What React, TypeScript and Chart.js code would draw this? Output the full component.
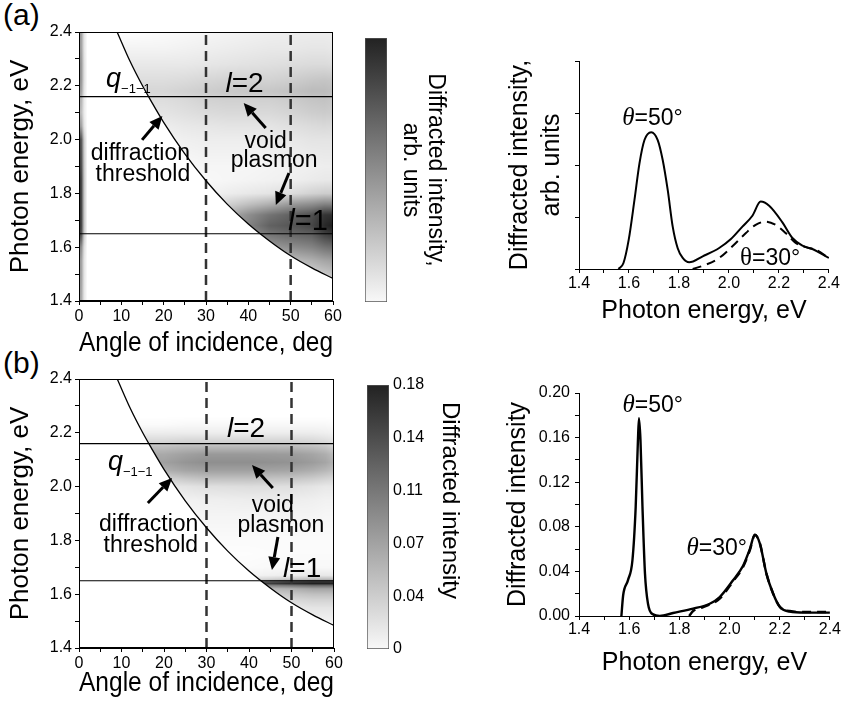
import React, { useEffect, useRef } from 'react';
import { Chart, registerables } from 'chart.js';
Chart.register(...registerables);

const SANS = '"Liberation Sans", Arial, Helvetica, sans-serif';
const SERIF = '"Liberation Serif", "Times New Roman", serif';
Chart.defaults.font.family = SANS;
Chart.defaults.color = '#000';

// ---------- axis limits ----------
const ANGLE_MIN = 0;
const ANGLE_MAX = 60;
const ENERGY_MIN = 1.4;
const ENERGY_MAX = 2.4;

// ---------- heatmap overlays ----------
const THRESHOLD_ANGLES = [9, 12, 15, 17, 20, 25, 30, 35, 40, 45, 50, 55, 60];
const THRESHOLD_ENERGIES = [2.4, 2.293, 2.2, 2.144, 2.064, 1.947, 1.847, 1.76, 1.686, 1.623, 1.568, 1.523, 1.484];
const MODE_ENERGIES = [2.16, 1.65];
const CUT_ANGLES = [30, 50];

// ---------- heatmap (a): darkness 0..1 ----------
const HEAT_A_STRIP_EDGE = 2;
const HEAT_A_ANGLES = [0, 0.6, 1.2, 2, 10, 20, 25, 30, 35, 40, 45, 50, 55, 58, 60];
const HEAT_A_ENERGIES = [1.4, 1.5, 1.55, 1.6, 1.65, 1.68, 1.72, 1.76, 1.8, 1.85, 1.9, 2.0, 2.05, 2.1, 2.15, 2.18, 2.22, 2.28, 2.34, 2.4];
const HEAT_A_VALUES = [
  [0.45, 0.36, 0.11, 0, 0, 0, 0, 0, 0, 0.05, 0.1, 0.12, 0.15, 0.18, 0.2],
  [0.5, 0.4, 0.12, 0, 0, 0, 0, 0, 0.1, 0.12, 0.15, 0.18, 0.2, 0.25, 0.28],
  [0.5, 0.4, 0.12, 0, 0, 0, 0, 0.1, 0.15, 0.2, 0.25, 0.3, 0.35, 0.4, 0.42],
  [0.6, 0.48, 0.15, 0, 0, 0, 0, 0.2, 0.3, 0.35, 0.45, 0.5, 0.55, 0.62, 0.65],
  [0.95, 0.76, 0.24, 0, 0, 0, 0, 0.25, 0.4, 0.5, 0.62, 0.68, 0.72, 0.85, 0.9],
  [1, 0.8, 0.25, 0, 0, 0, 0, 0.25, 0.4, 0.55, 0.7, 0.75, 0.82, 0.95, 1],
  [1, 0.8, 0.25, 0, 0, 0, 0, 0.2, 0.35, 0.5, 0.62, 0.7, 0.78, 0.9, 0.92],
  [1, 0.8, 0.25, 0, 0, 0, 0, 0.1, 0.2, 0.28, 0.35, 0.45, 0.5, 0.55, 0.55],
  [1, 0.8, 0.25, 0, 0, 0, 0, 0.05, 0.08, 0.1, 0.12, 0.15, 0.2, 0.22, 0.22],
  [1, 0.8, 0.25, 0, 0.02, 0.02, 0.02, 0.03, 0.04, 0.05, 0.06, 0.07, 0.09, 0.1, 0.1],
  [0.95, 0.76, 0.24, 0, 0.03, 0.03, 0.03, 0.04, 0.04, 0.04, 0.05, 0.06, 0.07, 0.08, 0.08],
  [0.9, 0.72, 0.22, 0, 0.05, 0.05, 0.07, 0.08, 0.08, 0.08, 0.09, 0.1, 0.12, 0.12, 0.12],
  [0.5, 0.4, 0.12, 0, 0.08, 0.08, 0.1, 0.11, 0.12, 0.12, 0.12, 0.14, 0.16, 0.17, 0.16],
  [0.35, 0.28, 0.09, 0, 0.12, 0.12, 0.14, 0.16, 0.17, 0.17, 0.17, 0.19, 0.22, 0.23, 0.22],
  [0.4, 0.32, 0.1, 0, 0.15, 0.15, 0.17, 0.2, 0.21, 0.21, 0.21, 0.23, 0.26, 0.27, 0.25],
  [0.5, 0.4, 0.12, 0, 0.18, 0.18, 0.2, 0.22, 0.24, 0.25, 0.25, 0.27, 0.3, 0.3, 0.28],
  [0.55, 0.44, 0.14, 0, 0.15, 0.15, 0.16, 0.18, 0.2, 0.2, 0.2, 0.22, 0.25, 0.26, 0.25],
  [0.55, 0.44, 0.14, 0, 0.1, 0.1, 0.1, 0.11, 0.12, 0.13, 0.14, 0.15, 0.16, 0.16, 0.15],
  [0.5, 0.4, 0.12, 0, 0.05, 0.05, 0.06, 0.07, 0.08, 0.09, 0.1, 0.1, 0.11, 0.11, 0.1],
  [0.5, 0.4, 0.12, 0, 0, 0.02, 0.03, 0.04, 0.05, 0.06, 0.07, 0.08, 0.08, 0.08, 0.08],
];

// ---------- heatmap (b): darkness 0..1 ----------
const HEAT_B_ANGLES = [15, 20, 25, 30, 40, 50, 55, 58, 60];
const HEAT_B_ENERGIES = [1.4, 1.5, 1.55, 1.58, 1.6, 1.62, 1.632, 1.64, 1.648, 1.655, 1.67, 1.7, 1.75, 1.8, 1.9, 1.95, 2.0, 2.03, 2.06, 2.09, 2.12, 2.15, 2.16, 2.18, 2.2, 2.23, 2.26, 2.4];
const HEAT_B_VALUES = [
  [0, 0, 0, 0, 0, 0, 0, 0, 0],
  [0, 0, 0, 0, 0.03, 0.05, 0.06, 0.06, 0.06],
  [0, 0, 0, 0, 0.08, 0.1, 0.12, 0.12, 0.12],
  [0, 0, 0, 0, 0.15, 0.18, 0.2, 0.2, 0.2],
  [0, 0, 0, 0, 0.2, 0.25, 0.28, 0.28, 0.28],
  [0, 0, 0, 0, 0.3, 0.35, 0.4, 0.4, 0.4],
  [0, 0, 0, 0, 0.5, 0.6, 0.65, 0.65, 0.65],
  [0, 0, 0, 0, 0.8, 0.95, 1, 1, 1],
  [0, 0, 0, 0, 0.6, 0.8, 0.85, 0.85, 0.85],
  [0, 0, 0, 0, 0.15, 0.25, 0.3, 0.3, 0.3],
  [0, 0, 0, 0, 0.05, 0.08, 0.1, 0.1, 0.1],
  [0, 0, 0, 0, 0.02, 0.03, 0.03, 0.03, 0.03],
  [0.01, 0.01, 0.01, 0.01, 0.01, 0.02, 0.02, 0.02, 0.02],
  [0.02, 0.02, 0.02, 0.02, 0.02, 0.02, 0.02, 0.02, 0.02],
  [0.03, 0.03, 0.04, 0.05, 0.05, 0.05, 0.05, 0.04, 0.04],
  [0.05, 0.05, 0.06, 0.07, 0.08, 0.08, 0.07, 0.06, 0.06],
  [0.1, 0.1, 0.12, 0.14, 0.15, 0.14, 0.12, 0.1, 0.1],
  [0.2, 0.2, 0.25, 0.28, 0.28, 0.26, 0.23, 0.2, 0.18],
  [0.35, 0.35, 0.4, 0.42, 0.42, 0.4, 0.36, 0.32, 0.28],
  [0.42, 0.42, 0.47, 0.5, 0.5, 0.48, 0.44, 0.4, 0.34],
  [0.38, 0.38, 0.42, 0.45, 0.45, 0.44, 0.4, 0.36, 0.3],
  [0.28, 0.28, 0.3, 0.3, 0.3, 0.3, 0.28, 0.25, 0.2],
  [0.2, 0.2, 0.22, 0.22, 0.22, 0.22, 0.2, 0.18, 0.15],
  [0.14, 0.14, 0.15, 0.15, 0.15, 0.15, 0.14, 0.12, 0.1],
  [0.08, 0.08, 0.08, 0.08, 0.08, 0.08, 0.08, 0.07, 0.06],
  [0.02, 0.02, 0.03, 0.03, 0.03, 0.03, 0.03, 0.03, 0.02],
  [0, 0, 0, 0, 0, 0, 0, 0, 0],
  [0, 0, 0, 0, 0, 0, 0, 0, 0],
];

// ---------- colour bars ----------
const CBAR_A_RANGE = [0, 1];
const CBAR_B_MAX = 0.18;
const CBAR_B_LABELS = ['0', '0.04', '0.07', '0.11', '0.14', '0.18'];

// ---------- spectra (a), arbitrary units ----------
const SPEC_A_E50 = [1.558, 1.578, 1.599, 1.622, 1.642, 1.662, 1.689, 1.715, 1.735, 1.755, 1.775, 1.795, 1.815, 1.841, 1.895, 1.961, 2.008, 2.054, 2.094, 2.127, 2.161, 2.214, 2.254, 2.294, 2.334, 2.36, 2.4];
const SPEC_A_I50 = [0, 0.029, 0.141, 0.332, 0.508, 0.62, 0.658, 0.62, 0.524, 0.38, 0.204, 0.1, 0.053, 0.032, 0.061, 0.101, 0.144, 0.204, 0.256, 0.324, 0.304, 0.224, 0.149, 0.112, 0.096, 0.08, 0.053];
const SPEC_A_E30 = [1.855, 1.908, 1.961, 2.014, 2.068, 2.107, 2.147, 2.187, 2.227, 2.267, 2.307, 2.347, 2.4];
const SPEC_A_I30 = [0, 0.021, 0.053, 0.109, 0.173, 0.212, 0.228, 0.212, 0.173, 0.125, 0.105, 0.093, 0.053];

// ---------- spectra (b) ----------
const SPEC_B_E50 = [1.569, 1.576, 1.595, 1.613, 1.626, 1.635, 1.639, 1.645, 1.653, 1.663, 1.675, 1.695, 1.722, 1.775, 1.855, 1.921, 1.961, 2.014, 2.054, 2.081, 2.101, 2.121, 2.147, 2.174, 2.201, 2.24, 2.3, 2.4];
const SPEC_B_I50 = [0, 0.0186, 0.032, 0.05, 0.098, 0.158, 0.1775, 0.158, 0.098, 0.038, 0.011, 0.0015, 0, 0.0027, 0.0066, 0.011, 0.017, 0.032, 0.045, 0.06, 0.073, 0.065, 0.038, 0.02, 0.008, 0.004, 0.003, 0.003];
const SPEC_B_E30 = [1.839, 1.855, 1.895, 1.961, 2.014, 2.054, 2.081, 2.101, 2.121, 2.147, 2.174, 2.201, 2.24, 2.294, 2.4];
const SPEC_B_I30 = [0, 0.0045, 0.008, 0.0156, 0.031, 0.044, 0.059, 0.0726, 0.065, 0.038, 0.02, 0.0081, 0.0045, 0.0036, 0.0036];

// ---------- helpers ----------
function thresholdAt(a: number): number {
  const xs = THRESHOLD_ANGLES, ys = THRESHOLD_ENERGIES;
  if (a < xs[0]) return Infinity;
  for (let i = 0; i < xs.length - 1; i++) {
    if (a <= xs[i + 1]) {
      const t = (a - xs[i]) / (xs[i + 1] - xs[i]);
      return ys[i] + t * (ys[i + 1] - ys[i]);
    }
  }
  return ys[ys.length - 1];
}

function findCell(arr: number[], v: number): [number, number, number] {
  const n = arr.length;
  if (v <= arr[0]) return [0, 0, 0];
  if (v >= arr[n - 1]) return [n - 1, n - 1, 0];
  for (let i = 0; i < n - 1; i++) {
    if (v <= arr[i + 1]) return [i, i + 1, (v - arr[i]) / (arr[i + 1] - arr[i])];
  }
  return [n - 1, n - 1, 0];
}

function sampleGrid(xs: number[], ys: number[], vals: number[][], a: number, e: number) {
  const [i0, i1, tx] = findCell(xs, a);
  const [j0, j1, ty] = findCell(ys, e);
  const v0 = vals[j0][i0] * (1 - tx) + vals[j0][i1] * tx;
  const v1 = vals[j1][i0] * (1 - tx) + vals[j1][i1] * tx;
  return v0 * (1 - ty) + v1 * ty;
}

function heatmapPlugin(xs: number[], ys: number[], vals: number[][], stripEdge: number) {
  return {
    id: 'heatmap',
    beforeDatasetsDraw(chart: any) {
      const { ctx, chartArea } = chart;
      const sx = chart.scales.x, sy = chart.scales.y;
      const L = Math.round(chartArea.left), T = Math.round(chartArea.top);
      const W = Math.round(chartArea.right) - L, H = Math.round(chartArea.bottom) - T;
      const off = document.createElement('canvas');
      off.width = W; off.height = H;
      const octx = off.getContext('2d')!;
      const img = octx.createImageData(W, H);
      for (let j = 0; j < H; j++) {
        const e = sy.getValueForPixel(T + j + 0.5);
        for (let i = 0; i < W; i++) {
          const a = sx.getValueForPixel(L + i + 0.5);
          const visible = a <= stripEdge || e >= thresholdAt(a);
          let d = visible ? sampleGrid(xs, ys, vals, a, e) : 0;
          d = Math.max(0, Math.min(1, d));
          const g = Math.round(255 - 225 * d);
          const k = (j * W + i) * 4;
          img.data[k] = g; img.data[k + 1] = g; img.data[k + 2] = g; img.data[k + 3] = 255;
        }
      }
      octx.putImageData(img, 0, 0);
      ctx.drawImage(off, L, T);
    },
  };
}

type Seg = { t: string; size: number; italic?: boolean; serif?: boolean; dy?: number };
type Note = { x: number; y: number; segs: Seg[]; align?: 'center' | 'left' };
type Arrow = { from: [number, number]; to: [number, number] };

function segFont(s: Seg) {
  return `${s.italic ? 'italic ' : ''}${s.size}px ${s.serif ? SERIF : SANS}`;
}

function drawArrow(ctx: CanvasRenderingContext2D, x1: number, y1: number, x2: number, y2: number) {
  const hl = 13, hw = 6;
  const ang = Math.atan2(y2 - y1, x2 - x1);
  const bx = x2 - hl * Math.cos(ang), by = y2 - hl * Math.sin(ang);
  ctx.lineWidth = 3;
  ctx.beginPath(); ctx.moveTo(x1, y1); ctx.lineTo(bx, by); ctx.stroke();
  ctx.beginPath();
  ctx.moveTo(x2, y2);
  ctx.lineTo(bx + hw * Math.sin(ang), by - hw * Math.cos(ang));
  ctx.lineTo(bx - hw * Math.sin(ang), by + hw * Math.cos(ang));
  ctx.closePath(); ctx.fill();
}

function notesPlugin(notes: Note[], arrows: Arrow[], frame: boolean) {
  return {
    id: 'notes',
    afterDatasetsDraw(chart: any) {
      const { ctx, chartArea } = chart;
      const sx = chart.scales.x, sy = chart.scales.y;
      ctx.save();
      ctx.strokeStyle = '#000'; ctx.fillStyle = '#000';
      if (frame) {
        ctx.lineWidth = 1;
        ctx.strokeRect(Math.round(chartArea.left) + 0.5, Math.round(chartArea.top) + 0.5,
          Math.round(chartArea.right - chartArea.left) - 1, Math.round(chartArea.bottom - chartArea.top) - 1);
      }
      arrows.forEach((ar) => {
        drawArrow(ctx, sx.getPixelForValue(ar.from[0]), sy.getPixelForValue(ar.from[1]),
          sx.getPixelForValue(ar.to[0]), sy.getPixelForValue(ar.to[1]));
      });
      ctx.textBaseline = 'alphabetic';
      ctx.textAlign = 'left';
      notes.forEach((n) => {
        const widths = n.segs.map((s) => { ctx.font = segFont(s); return ctx.measureText(s.t).width; });
        const total = widths.reduce((p, c) => p + c, 0);
        const px = sx.getPixelForValue(n.x), py = sy.getPixelForValue(n.y);
        let x = n.align === 'left' ? px : px - total / 2;
        n.segs.forEach((s, k) => {
          ctx.font = segFont(s);
          ctx.fillText(s.t, x, py + (s.dy || 0));
          x += widths[k];
        });
      });
      ctx.restore();
    },
  };
}

// ---------- annotation layouts (data coordinates) ----------
const NOTES_A: Note[] = [
  { x: 6.4, y: 2.194, align: 'left', segs: [{ t: 'q', size: 27, italic: true }, { t: '\u22121\u22121', size: 13, dy: 6 }] },
  { x: 14.5, y: 1.924, segs: [{ t: 'diffraction', size: 23 }] },
  { x: 15.1, y: 1.846, segs: [{ t: 'threshold', size: 23 }] },
  { x: 44.1, y: 1.969, segs: [{ t: 'void', size: 23 }] },
  { x: 46.1, y: 1.898, segs: [{ t: 'plasmon', size: 23 }] },
  { x: 39.1, y: 2.177, segs: [{ t: 'l', size: 28, italic: true }, { t: '=2', size: 28 }] },
  { x: 54.1, y: 1.664, segs: [{ t: 'l', size: 29, italic: true }, { t: '=1', size: 29 }] },
];
const ARROWS_A: Arrow[] = [
  { from: [14.9, 1.999], to: [19.7, 2.088] },
  { from: [44.1, 2.043], to: [38.9, 2.136] },
  { from: [49.6, 1.876], to: [46.5, 1.757] },
];
const NOTES_B: Note[] = [
  { x: 6.8, y: 2.062, align: 'left', segs: [{ t: 'q', size: 27, italic: true }, { t: '\u22121\u22121', size: 13, dy: 6 }] },
  { x: 16.4, y: 1.835, segs: [{ t: 'diffraction', size: 23 }] },
  { x: 16.9, y: 1.757, segs: [{ t: 'threshold', size: 23 }] },
  { x: 45.6, y: 1.906, segs: [{ t: 'void', size: 23 }] },
  { x: 47.5, y: 1.831, segs: [{ t: 'plasmon', size: 23 }] },
  { x: 39.3, y: 2.184, segs: [{ t: 'l', size: 28, italic: true }, { t: '=2', size: 28 }] },
  { x: 52.5, y: 1.664, segs: [{ t: 'l', size: 28, italic: true }, { t: '=1', size: 28 }] },
];
const ARROWS_B: Arrow[] = [
  { from: [16.2, 1.939], to: [21.9, 2.032] },
  { from: [45.6, 1.995], to: [40.7, 2.08] },
  { from: [46.8, 1.813], to: [45.4, 1.69] },
];
const NOTES_SPEC_A: Note[] = [
  { x: 1.694, y: 0.692, segs: [{ t: '\u03b8', size: 25, italic: true, serif: true }, { t: '=50\u00b0', size: 23 }] },
  { x: 2.165, y: 0.019, segs: [{ t: '\u03b8', size: 25, serif: true }, { t: '=30\u00b0', size: 23 }] },
];
const NOTES_SPEC_B: Note[] = [
  { x: 1.694, y: 0.183, segs: [{ t: '\u03b8', size: 25, italic: true, serif: true }, { t: '=50\u00b0', size: 23 }] },
  { x: 1.949, y: 0.0547, segs: [{ t: '\u03b8', size: 25, italic: true, serif: true }, { t: '=30\u00b0', size: 23 }] },
];

// ---------- chart configs ----------
const tickFont = { size: 16 };

function heatConfig(opts: {
  xs: number[]; ys: number[]; vals: number[][]; strip: number; notes: Note[]; arrows: Arrow[];
  padTop: number; padRight: number; xHeight: number; xTitlePad: number;
}) {
  const lineSets: any[] = [];
  lineSets.push({
    data: THRESHOLD_ANGLES.map((a, i) => ({ x: a, y: THRESHOLD_ENERGIES[i] })),
    showLine: true, borderColor: '#000', borderWidth: 1.3, pointRadius: 0, cubicInterpolationMode: 'monotone',
  });
  MODE_ENERGIES.forEach((e) => lineSets.push({
    data: [{ x: ANGLE_MIN, y: e }, { x: ANGLE_MAX, y: e }],
    showLine: true, borderColor: '#000', borderWidth: 1.2, pointRadius: 0,
  }));
  CUT_ANGLES.forEach((a) => lineSets.push({
    data: [{ x: a, y: ENERGY_MIN }, { x: a, y: ENERGY_MAX }],
    showLine: true, borderColor: '#333', borderWidth: 2.5, borderDash: [10, 6], pointRadius: 0,
  }));
  return {
    type: 'scatter',
    data: { datasets: lineSets },
    options: {
      responsive: false, animation: false, events: [],
      layout: { padding: { top: opts.padTop, right: opts.padRight, left: 0, bottom: 0 } },
      plugins: { legend: { display: false }, tooltip: { enabled: false } },
      scales: {
        x: {
          type: 'linear', min: ANGLE_MIN, max: ANGLE_MAX,
          ticks: { stepSize: 5, autoSkip: false, maxRotation: 0, padding: 2, font: tickFont,
            callback: (v: number) => (Math.round(v) % 10 === 0 ? String(Math.round(v)) : '') },
          grid: { drawOnChartArea: false, drawTicks: true, tickLength: 4, color: '#000' },
          border: { color: '#000', width: 1 },
          title: { display: true, text: 'Angle of incidence, deg', font: { size: 27 }, padding: { top: 0, bottom: opts.xTitlePad } },
          afterFit: (s: any) => { s.height = opts.xHeight; },
        },
        y: {
          type: 'linear', min: ENERGY_MIN, max: ENERGY_MAX,
          ticks: { stepSize: 0.1, autoSkip: false, padding: 3, font: tickFont,
            callback: (v: number, i: number) => (i % 2 === 0 ? v.toFixed(1) : '') },
          grid: { drawOnChartArea: false, drawTicks: true, tickLength: 4, color: '#000' },
          border: { color: '#000', width: 1 },
          title: { display: true, text: 'Photon energy, eV', font: { size: 26 }, padding: { top: 5, bottom: 0 } },
          afterFit: (s: any) => { s.width = 79; },
        },
      },
    },
    plugins: [heatmapPlugin(opts.xs, opts.ys, opts.vals, opts.strip), notesPlugin(opts.notes, opts.arrows, true)],
  };
}

function specConfig(opts: {
  e50: number[]; i50: number[]; e30: number[]; i30: number[]; yMax: number; yStep: number; labelY: boolean;
  yTitle: string | string[]; yTitlePad: number; padTop: number; xHeight: number; xTitlePad: number; xTickPad: number;
  notes: Note[]; width: number;
}) {
  return {
    type: 'scatter',
    data: {
      datasets: [
        { data: opts.e50.map((e, i) => ({ x: e, y: opts.i50[i] })), showLine: true, borderColor: '#000',
          borderWidth: opts.width, pointRadius: 0, cubicInterpolationMode: 'monotone' },
        { data: opts.e30.map((e, i) => ({ x: e, y: opts.i30[i] })), showLine: true, borderColor: '#000',
          borderWidth: opts.width, borderDash: [9, 6], pointRadius: 0, cubicInterpolationMode: 'monotone' },
      ],
    },
    options: {
      responsive: false, animation: false, events: [],
      layout: { padding: { top: opts.padTop, right: 11, left: 0, bottom: 0 } },
      plugins: { legend: { display: false }, tooltip: { enabled: false } },
      scales: {
        x: {
          type: 'linear', min: ENERGY_MIN, max: ENERGY_MAX,
          ticks: { stepSize: 0.1, autoSkip: false, maxRotation: 0, padding: opts.xTickPad, font: tickFont,
            callback: (v: number, i: number) => (i % 2 === 0 ? v.toFixed(1) : '') },
          grid: { drawOnChartArea: false, drawTicks: true, tickLength: 4, color: '#000' },
          border: { color: '#000', width: 1 },
          title: { display: true, text: 'Photon energy, eV', font: { size: 25 }, padding: { top: 0, bottom: opts.xTitlePad } },
          afterFit: (s: any) => { s.height = opts.xHeight; },
        },
        y: {
          type: 'linear', min: 0, max: opts.yMax,
          ticks: { stepSize: opts.yStep, autoSkip: false, padding: 5, font: tickFont,
            callback: (v: number, i: number) => (opts.labelY && i % 2 === 0 ? v.toFixed(2) : '') },
          grid: { drawOnChartArea: false, drawTicks: true, tickLength: 4, color: '#000' },
          border: { color: '#000', width: 1 },
          title: { display: true, text: opts.yTitle, font: { size: 25, lineHeight: 1.28 }, padding: { top: opts.yTitlePad, bottom: 0 } },
          afterFit: (s: any) => { s.width = 99; },
        },
      },
    },
    plugins: [notesPlugin(opts.notes, [], false)],
  };
}

function cbarFill(c: any) {
  const chart = c.chart;
  const ca = chart.chartArea;
  if (!ca) return '#888';
  const g = chart.ctx.createLinearGradient(0, ca.bottom, 0, ca.top);
  g.addColorStop(0, '#f8f8f8');
  g.addColorStop(1, '#222222');
  return g;
}

function cbarAConfig() {
  return {
    type: 'bar',
    data: { labels: [''], datasets: [{ data: [CBAR_A_RANGE], backgroundColor: cbarFill, borderColor: '#555',
      borderWidth: 1, borderSkipped: false, barPercentage: 1, categoryPercentage: 1 }] },
    options: {
      responsive: false, animation: false, events: [],
      layout: { padding: { left: 3, top: 38, bottom: 38, right: 0 } },
      plugins: { legend: { display: false }, tooltip: { enabled: false } },
      scales: {
        x: { display: false },
        y: {
          position: 'right', min: CBAR_A_RANGE[0], max: CBAR_A_RANGE[1],
          ticks: { display: false }, grid: { display: false, drawTicks: false }, border: { display: false },
          title: { display: true, text: ['Diffracted intensity,', 'arb. units'], font: { size: 23, lineHeight: 1.1 }, padding: { top: 9, bottom: 0 } },
          afterFit: (s: any) => { s.width = 70; },
        },
      },
    },
  };
}

function cbarBConfig() {
  return {
    type: 'bar',
    data: { labels: [''], datasets: [{ data: [[0, CBAR_B_MAX]], backgroundColor: cbarFill, borderColor: '#555',
      borderWidth: 1, borderSkipped: false, barPercentage: 1, categoryPercentage: 1 }] },
    options: {
      responsive: false, animation: false, events: [],
      layout: { padding: { left: 5, top: 40, bottom: 55, right: 0 } },
      plugins: { legend: { display: false }, tooltip: { enabled: false } },
      scales: {
        x: { display: false },
        y: {
          position: 'right', min: 0, max: CBAR_B_MAX,
          afterBuildTicks: (s: any) => {
            s.ticks = CBAR_B_LABELS.map((_, i) => ({ value: (i * CBAR_B_MAX) / (CBAR_B_LABELS.length - 1) }));
          },
          ticks: { padding: 4, font: tickFont, callback: (_v: number, i: number) => CBAR_B_LABELS[i] },
          grid: { display: false, drawTicks: false }, border: { display: false },
          afterFit: (s: any) => { s.width = 43; },
        },
      },
    },
  };
}

function ChartBox({ left, top, width, height, make }: { left: number; top: number; width: number; height: number; make: () => any }) {
  const ref = useRef<HTMLCanvasElement>(null);
  useEffect(() => {
    const chart = new Chart(ref.current as HTMLCanvasElement, make());
    return () => chart.destroy();
  }, []);
  return (
    <div style={{ position: 'absolute', left, top, width, height }}>
      <canvas ref={ref} width={width} height={height} style={{ width, height, display: 'block' }} />
    </div>
  );
}

export default function App() {
  return (
    <div style={{ position: 'absolute', left: 0, top: 0, width: 841, height: 704, background: '#fff', overflow: 'hidden', fontFamily: SANS, color: '#000' }}>
      <div style={{ position: 'absolute', left: 3, top: 0, fontSize: 30, lineHeight: '30px' }}>(a)</div>
      <div style={{ position: 'absolute', left: 3, top: 348, fontSize: 30, lineHeight: '30px' }}>(b)</div>
      <ChartBox left={0} top={0} width={362} height={362}
        make={() => heatConfig({ xs: HEAT_A_ANGLES, ys: HEAT_A_ENERGIES, vals: HEAT_A_VALUES, strip: HEAT_A_STRIP_EDGE,
          notes: NOTES_A, arrows: ARROWS_A, padTop: 32, padRight: 29, xHeight: 61, xTitlePad: 2 })} />
      <ChartBox left={0} top={345} width={362} height={359}
        make={() => heatConfig({ xs: HEAT_B_ANGLES, ys: HEAT_B_ENERGIES, vals: HEAT_B_VALUES, strip: -1,
          notes: NOTES_B, arrows: ARROWS_B, padTop: 34, padRight: 28, xHeight: 56, xTitlePad: 4 })} />
      <ChartBox left={362} top={0} width={95} height={340} make={cbarAConfig} />
      <ChartBox left={362} top={345} width={70} height={359} make={cbarBConfig} />
      <div style={{ position: 'absolute', left: 439, top: 402, writingMode: 'vertical-rl', fontSize: 24, lineHeight: '24px', whiteSpace: 'nowrap' }}>
        Diffracted intensity
      </div>
      <ChartBox left={480} top={0} width={361} height={340}
        make={() => specConfig({ e50: SPEC_A_E50, i50: SPEC_A_I50, e30: SPEC_A_E30, i30: SPEC_A_I30, yMax: 1, yStep: 0.25,
          labelY: false, yTitle: ['Diffracted intensity,', 'arb. units'], yTitlePad: 24, padTop: 61, xHeight: 71,
          xTitlePad: 14, xTickPad: 1, notes: NOTES_SPEC_A, width: 2 })} />
      <ChartBox left={480} top={345} width={361} height={359}
        make={() => specConfig({ e50: SPEC_B_E50, i50: SPEC_B_I50, e30: SPEC_B_E30, i30: SPEC_B_I30, yMax: 0.2, yStep: 0.02,
          labelY: true, yTitle: 'Diffracted intensity', yTitlePad: 22, padTop: 48, xHeight: 88,
          xTitlePad: 26, xTickPad: 0, notes: NOTES_SPEC_B, width: 2.4 })} />
    </div>
  );
}
